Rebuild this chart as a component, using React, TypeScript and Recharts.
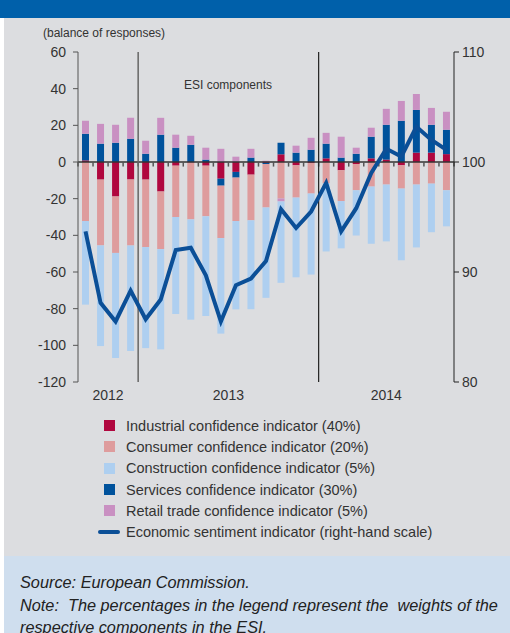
import {
  Bar,
  ComposedChart,
  Line,
  ReferenceLine,
  XAxis,
  YAxis,
} from "recharts"

const months = [
  "Sep-12", "Oct-12", "Nov-12", "Dec-12",
  "Jan-13", "Feb-13", "Mar-13", "Apr-13", "May-13", "Jun-13",
  "Jul-13", "Aug-13", "Sep-13", "Oct-13", "Nov-13", "Dec-13",
  "Jan-14", "Feb-14", "Mar-14", "Apr-14", "May-14", "Jun-14",
  "Jul-14", "Aug-14", "Sep-14",
]

const industrial = [
  0.9, -9.6, -18.8, -9.6,
  -9.6, -16.1, -2.0, -0.3, -2.0, -9.1, -5.4, -6.9, -0.5, 4.2, -1.8, -0.5,
  2.0, -4.5, -1.1, 2.0, 1.3, -1.8, 5.1, 5.1, 4.3,
]
const services = [
  14.5, 10.0, 10.5, 12.7,
  4.5, 14.9, 7.8, 9.4, 1.3, -3.8, -3.1, 2.4, -0.6, 6.3, 5.1, 6.7,
  8.0, 2.4, 4.5, 11.8, 19.0, 22.5, 23.3, 15.2, 13.3,
]
const consumer = [
  -32.2, -35.9, -30.8, -35.9,
  -36.8, -31.4, -28.0, -31.0, -27.6, -28.6, -23.7, -24.9, -23.7, -19.9, -17.6, -16.7,
  -11.6, -16.8, -14.3, -13.4, -12.3, -12.7, -12.3, -11.8, -15.4,
]
const retail = [
  7.1, 10.8, 9.8, 11.4,
  7.1, 9.2, 7.1, 4.9, 6.5, 7.2, 2.9, 4.8, 0.7, -1.6, 3.8, 6.5,
  5.9, 11.4, 3.3, 4.9, 8.7, 10.8, 8.7, 9.2, 9.8,
]
const construction = [
  -45.6, -54.9, -57.3, -57.6,
  -55.1, -54.7, -52.9, -54.7, -54.4, -52.1, -48.2, -48.5, -49.3, -44.4, -43.5, -44.2,
  -37.2, -25.8, -24.7, -31.2, -31.0, -39.1, -34.3, -26.5, -19.7,
]
const esi = [
  93.7, 87.2, 85.5, 88.3,
  85.7, 87.5, 92.0, 92.2, 89.7, 85.5, 88.8, 89.4, 91.0, 95.7, 94.0, 95.5,
  98.1, 93.7, 95.8, 99.0, 101.2, 100.5, 103.2, 102.0, 101.1,
]

const years = [
  { label: "2012", first: "Sep-12", last: "Dec-12" },
  { label: "2013", first: "Jan-13", last: "Dec-13" },
  { label: "2014", first: "Jan-14", last: "Sep-14" },
]

const leftTicks = [-120, -100, -80, -60, -40, -20, 0, 20, 40, 60]
const rightTicks = [80, 90, 100, 110]

const colors = {
  industrial: "#b0073f",
  consumer: "#de9c9d",
  construction: "#aecff0",
  services: "#00529c",
  retail: "#c990c2",
  esi: "#0b4f97",
}

const legendItems = [
  { label: "Industrial confidence indicator (40%)", color: colors.industrial, kind: "box" },
  { label: "Consumer confidence indicator (20%)", color: colors.consumer, kind: "box" },
  { label: "Construction confidence indicator (5%)", color: colors.construction, kind: "box" },
  { label: "Services confidence indicator (30%)", color: colors.services, kind: "box" },
  { label: "Retail trade confidence indicator (5%)", color: colors.retail, kind: "box" },
  { label: "Economic sentiment indicator (right-hand scale)", color: colors.esi, kind: "line" },
]

const data = months.map((m, i) => ({
  month: m,
  industrial: industrial[i],
  services: services[i],
  consumer: consumer[i],
  retail: retail[i],
  construction: construction[i],
  esi: esi[i],
}))

const CHART_W = 510
const LEFT_W = 78
const RIGHT_W = 56
const band = (CHART_W - LEFT_W - RIGHT_W) / months.length
const font = '"Liberation Sans", Arial, sans-serif'

function YearTick(props: any) {
  const { x, y, index } = props
  for (const yr of years) {
    const mid = (months.indexOf(yr.first) + months.indexOf(yr.last)) / 2
    if (Math.floor(mid) === index) {
      return (
        <text
          x={x + (mid - index) * band}
          y={y + 10}
          textAnchor="middle"
          fontSize={14}
          fill="#333"
          fontFamily={font}
        >
          {yr.label}
        </text>
      )
    }
  }
  return null
}

export default function App() {
  return (
    <div
      style={{
        position: "absolute",
        left: 0,
        top: 0,
        width: 510,
        height: 633,
        overflow: "hidden",
        background: "#fff",
        fontFamily: font,
      }}
    >
      <div style={{ position: "absolute", left: 0, top: 0, width: 510, height: 18, background: "#0060aa" }} />
      <div style={{ position: "absolute", left: 4, top: 18, width: 506, height: 538, background: "#dcdde0" }} />
      <div style={{ position: "absolute", left: 4, top: 556, width: 506, height: 77, background: "#cfdeee" }} />

      <div style={{ position: "absolute", left: 43, top: 26, fontSize: 12, color: "#333" }}>
        (balance of responses)
      </div>
      <div style={{ position: "absolute", left: 184, top: 78, fontSize: 12, color: "#333" }}>
        ESI components
      </div>

      <div style={{ position: "absolute", left: 0, top: 0 }}>
        <ComposedChart
          width={CHART_W}
          height={410}
          data={data}
          stackOffset="sign"
          barSize={7}
          margin={{ top: 52, right: 0, bottom: 0, left: 0 }}
        >
          <XAxis
            dataKey="month"
            height={28}
            axisLine={false}
            tickLine={false}
            interval={0}
            tick={<YearTick />}
          />
          <YAxis
            yAxisId="left"
            domain={[-120, 60]}
            ticks={leftTicks}
            width={LEFT_W}
            tickSize={5}
            tickMargin={7}
            axisLine={{ stroke: "#555" }}
            tickLine={{ stroke: "#555" }}
            tick={{ fontSize: 14, fill: "#333", fontFamily: font }}
          />
          <YAxis
            yAxisId="right"
            orientation="right"
            domain={[80, 110]}
            ticks={rightTicks}
            width={RIGHT_W}
            tickSize={5}
            tickMargin={3}
            axisLine={{ stroke: "#222" }}
            tickLine={{ stroke: "#222" }}
            tick={{ fontSize: 14, fill: "#333", fontFamily: font, textAnchor: "start" }}
          />
          <Bar yAxisId="left" dataKey="industrial" stackId="a" fill={colors.industrial} isAnimationActive={false} />
          <Bar yAxisId="left" dataKey="services" stackId="a" fill={colors.services} isAnimationActive={false} />
          <Bar yAxisId="left" dataKey="consumer" stackId="a" fill={colors.consumer} isAnimationActive={false} />
          <Bar yAxisId="left" dataKey="retail" stackId="a" fill={colors.retail} isAnimationActive={false} />
          <Bar yAxisId="left" dataKey="construction" stackId="a" fill={colors.construction} isAnimationActive={false} />
          <ReferenceLine yAxisId="left" y={0} stroke="#333" strokeWidth={1.5} />
          {months.map((m) => (
            <ReferenceLine
              key={m}
              yAxisId="left"
              segment={[{ x: m, y: 0 }, { x: m, y: -2.5 }]}
              position="start"
              stroke="#555"
              strokeWidth={1.5}
            />
          ))}
          <ReferenceLine
            yAxisId="left"
            segment={[
              { x: months[months.length - 1], y: 0 },
              { x: months[months.length - 1], y: -2.5 },
            ]}
            position="end"
            stroke="#555"
            strokeWidth={1.5}
          />
          <ReferenceLine yAxisId="left" x="Jan-13" position="start" stroke="#666" strokeWidth={1.5} />
          <ReferenceLine yAxisId="left" x="Jan-14" position="start" stroke="#222" strokeWidth={1.2} />
          <Line
            yAxisId="right"
            dataKey="esi"
            type="linear"
            stroke={colors.esi}
            strokeWidth={4}
            dot={false}
            isAnimationActive={false}
          />
        </ComposedChart>
      </div>

      <div style={{ position: "absolute", left: 98, top: 415, fontSize: 14.5, color: "#333" }}>
        {legendItems.map((it) => (
          <div key={it.label} style={{ display: "flex", alignItems: "center", height: 21.3 }}>
            <div style={{ width: 22, display: "flex", justifyContent: "center", marginRight: 6 }}>
              {it.kind === "box" ? (
                <div style={{ width: 11, height: 11, background: it.color }} />
              ) : (
                <div style={{ width: 22, height: 4, background: it.color, borderRadius: 2 }} />
              )}
            </div>
            <span style={{ whiteSpace: "nowrap" }}>{it.label}</span>
          </div>
        ))}
      </div>

      <div
        style={{
          position: "absolute",
          left: 20,
          top: 571,
          fontSize: 16.3,
          fontStyle: "italic",
          color: "#222",
          lineHeight: "22.5px",
          whiteSpace: "nowrap",
        }}
      >
        <div>Source: European Commission.</div>
        <div>Note:&nbsp; The percentages in the legend represent the&nbsp; weights of the</div>
        <div>respective components in the ESI.</div>
      </div>
    </div>
  )
}
